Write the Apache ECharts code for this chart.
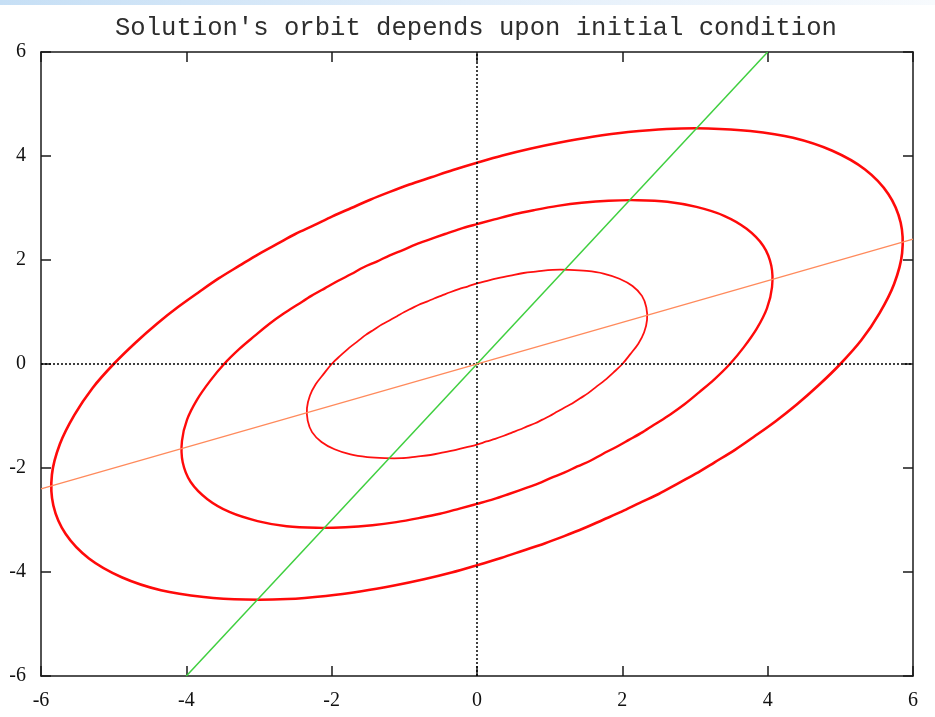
<!DOCTYPE html>
<html>
<head>
<meta charset="utf-8">
<title>Solution's orbit</title>
<script src="https://cdn.jsdelivr.net/npm/echarts@6/dist/echarts.min.js"></script>
<style>
  html, body { margin: 0; padding: 0; background: #ffffff; }
  #chart { width: 935px; height: 717px; }
</style>
</head>
<body>
<div id="chart"></div>
<script>
// Phase-plane picture of a linear system: three closed orbits (one per
// initial condition) plus the two principal directions through the origin.
const titleText = "Solution's orbit depends upon initial condition";
const axisTicks = [-6, -4, -2, 0, 2, 4, 6];

// Orbit traced from the largest initial condition
const outerOrbit = [
  [5.00, 0.00], [5.29, 0.46], [5.54, 0.98], [5.74, 1.54], [5.85, 2.13], [5.83, 2.72],
  [5.66, 3.27], [5.34, 3.74], [4.89, 4.10], [4.35, 4.35], [3.76, 4.48], [3.18, 4.53],
  [2.61, 4.52], [2.08, 4.46], [1.59, 4.37], [1.14, 4.26], [0.73, 4.14], [0.35, 4.01],
  [0.00, 3.87], [-0.33, 3.73], [-0.63, 3.59], [-0.93, 3.45], [-1.20, 3.31], [-1.47, 3.16],
  [-1.73, 3.00], [-1.99, 2.84], [-2.24, 2.67], [-2.50, 2.50], [-2.75, 2.31], [-3.01, 2.11],
  [-3.27, 1.89], [-3.55, 1.65], [-3.82, 1.39], [-4.11, 1.10], [-4.40, 0.78], [-4.70, 0.41],
  [-5.00, 0.00], [-5.29, -0.46], [-5.54, -0.98], [-5.74, -1.54], [-5.85, -2.13], [-5.83, -2.72],
  [-5.66, -3.27], [-5.34, -3.74], [-4.89, -4.10], [-4.35, -4.35], [-3.76, -4.48], [-3.18, -4.53],
  [-2.61, -4.52], [-2.08, -4.46], [-1.59, -4.37], [-1.14, -4.26], [-0.73, -4.14], [-0.35, -4.01],
  [0.00, -3.87], [0.33, -3.73], [0.63, -3.59], [0.93, -3.45], [1.20, -3.31], [1.47, -3.16],
  [1.73, -3.00], [1.99, -2.84], [2.24, -2.67], [2.50, -2.50], [2.75, -2.31], [3.01, -2.11],
  [3.27, -1.89], [3.55, -1.65], [3.82, -1.39], [4.11, -1.10], [4.40, -0.78], [4.70, -0.41]
];

// Orbit from the middle initial condition
const middleOrbit = [
  [3.48, 0.00], [3.67, 0.32], [3.85, 0.68], [3.99, 1.07], [4.06, 1.48], [4.05, 1.89],
  [3.94, 2.27], [3.71, 2.60], [3.40, 2.85], [3.02, 3.02], [2.62, 3.12], [2.21, 3.15],
  [1.81, 3.14], [1.44, 3.10], [1.11, 3.04], [0.79, 2.96], [0.51, 2.88], [0.24, 2.78],
  [0.00, 2.69], [-0.23, 2.60], [-0.44, 2.50], [-0.64, 2.40], [-0.84, 2.30], [-1.02, 2.19],
  [-1.20, 2.09], [-1.38, 1.97], [-1.56, 1.86], [-1.73, 1.73], [-1.91, 1.60], [-2.09, 1.46],
  [-2.28, 1.31], [-2.46, 1.15], [-2.66, 0.97], [-2.86, 0.77], [-3.06, 0.54], [-3.27, 0.29],
  [-3.48, 0.00], [-3.67, -0.32], [-3.85, -0.68], [-3.99, -1.07], [-4.06, -1.48], [-4.05, -1.89],
  [-3.94, -2.27], [-3.71, -2.60], [-3.40, -2.85], [-3.02, -3.02], [-2.62, -3.12], [-2.21, -3.15],
  [-1.81, -3.14], [-1.44, -3.10], [-1.11, -3.04], [-0.79, -2.96], [-0.51, -2.88], [-0.24, -2.78],
  [0.00, -2.69], [0.23, -2.60], [0.44, -2.50], [0.64, -2.40], [0.84, -2.30], [1.02, -2.19],
  [1.20, -2.09], [1.38, -1.97], [1.56, -1.86], [1.73, -1.73], [1.91, -1.60], [2.09, -1.46],
  [2.28, -1.31], [2.46, -1.15], [2.66, -0.97], [2.86, -0.77], [3.06, -0.54], [3.27, -0.29]
];

// Orbit from the smallest initial condition
const innerOrbit = [
  [2.00, 0.00], [2.11, 0.19], [2.22, 0.39], [2.30, 0.61], [2.34, 0.85], [2.33, 1.09],
  [2.27, 1.31], [2.14, 1.50], [1.96, 1.64], [1.74, 1.74], [1.51, 1.79], [1.27, 1.81],
  [1.04, 1.81], [0.83, 1.78], [0.64, 1.75], [0.46, 1.70], [0.29, 1.65], [0.14, 1.60],
  [0.00, 1.55], [-0.13, 1.49], [-0.25, 1.44], [-0.37, 1.38], [-0.48, 1.32], [-0.59, 1.26],
  [-0.69, 1.20], [-0.80, 1.14], [-0.90, 1.07], [-1.00, 1.00], [-1.10, 0.92], [-1.20, 0.84],
  [-1.31, 0.76], [-1.42, 0.66], [-1.53, 0.56], [-1.64, 0.44], [-1.76, 0.31], [-1.88, 0.16],
  [-2.00, 0.00], [-2.11, -0.19], [-2.22, -0.39], [-2.30, -0.61], [-2.34, -0.85], [-2.33, -1.09],
  [-2.27, -1.31], [-2.14, -1.50], [-1.96, -1.64], [-1.74, -1.74], [-1.51, -1.79], [-1.27, -1.81],
  [-1.04, -1.81], [-0.83, -1.78], [-0.64, -1.75], [-0.46, -1.70], [-0.29, -1.65], [-0.14, -1.60],
  [0.00, -1.55], [0.13, -1.49], [0.25, -1.44], [0.37, -1.38], [0.48, -1.32], [0.59, -1.26],
  [0.69, -1.20], [0.80, -1.14], [0.90, -1.07], [1.00, -1.00], [1.10, -0.92], [1.20, -0.84],
  [1.31, -0.76], [1.42, -0.66], [1.53, -0.56], [1.64, -0.44], [1.76, -0.31], [1.88, -0.16]
];

// Straight lines through the origin
const steepDirection = [[-4, -6], [4, 6]];
const shallowDirection = [[-6, -2.4], [6, 2.4]];

// Dotted zero axes
const xZeroLine = [[-6, 0], [6, 0]];
const yZeroLine = [[0, -6], [0, 6]];

const axisMin = axisTicks[0];
const axisMax = axisTicks[axisTicks.length - 1];
const axisStep = axisTicks[1] - axisTicks[0];

const frameColor = '#1a1a1a';
const labelFont = {
  fontFamily: '"Liberation Serif", "DejaVu Serif", serif',
  fontSize: 20,
  lineHeight: 20,
  color: '#111'
};

function makeAxis(position, showLabels, margin, padding) {
  return {
    type: 'value',
    position: position,
    min: axisMin,
    max: axisMax,
    interval: axisStep,
    axisLine: { show: true, onZero: false, lineStyle: { color: frameColor, width: 1.5 } },
    axisTick: { show: true, inside: true, length: 10, lineStyle: { color: frameColor, width: 1.5 } },
    axisLabel: Object.assign({ show: showLabels, margin: margin, padding: padding || 0 }, labelFont),
    splitLine: { show: false }
  };
}

function line(name, data, color, width, extra) {
  return Object.assign({
    name: name,
    type: 'line',
    data: data,
    xAxisIndex: 0,
    yAxisIndex: 0,
    showSymbol: false,
    symbol: 'none',
    silent: true,
    animation: false,
    lineStyle: { color: color, width: width }
  }, extra || {});
}

// A closed orbit: the sampled points are mapped through the axes and joined
// by a closed Catmull-Rom spline so the loop stays round between samples.
function orbit(name, data, color, width) {
  return {
    name: name,
    type: 'custom',
    coordinateSystem: 'cartesian2d',
    xAxisIndex: 0,
    yAxisIndex: 0,
    silent: true,
    animation: false,
    data: data,
    encode: { x: 0, y: 1 },
    renderItem: function (params, api) {
      if (params.dataIndex !== 0) return null;
      const p = data.map(function (d) { return api.coord(d); });
      const n = p.length;
      let path = 'M' + p[0][0] + ',' + p[0][1];
      for (let i = 0; i < n; i++) {
        const p0 = p[(i - 1 + n) % n], p1 = p[i], p2 = p[(i + 1) % n], p3 = p[(i + 2) % n];
        const c1x = p1[0] + (p2[0] - p0[0]) / 6, c1y = p1[1] + (p2[1] - p0[1]) / 6;
        const c2x = p2[0] - (p3[0] - p1[0]) / 6, c2y = p2[1] - (p3[1] - p1[1]) / 6;
        path += 'C' + c1x + ',' + c1y + ' ' + c2x + ',' + c2y + ' ' + p2[0] + ',' + p2[1];
      }
      path += 'Z';
      return {
        type: 'path',
        shape: { pathData: path },
        style: { fill: 'none', stroke: color, lineWidth: width, lineJoin: 'round' }
      };
    }
  };
}

const chart = echarts.init(document.getElementById('chart'), null, { renderer: 'canvas' });

chart.setOption({
  backgroundColor: '#ffffff',
  animation: false,
  title: {
    text: titleText,
    left: 110,
    top: 10,
    textStyle: {
      fontFamily: '"Liberation Mono", "DejaVu Sans Mono", monospace',
      fontSize: 25.6,
      fontWeight: 'normal',
      color: '#2e2e2e',
      lineHeight: 26
    }
  },
  graphic: [{
    type: 'rect',
    left: 0,
    top: 0,
    silent: true,
    shape: { width: 935, height: 5 },
    style: {
      fill: new echarts.graphic.LinearGradient(0, 0, 1, 0, [
        { offset: 0, color: '#c6dff5' },
        { offset: 0.5, color: '#e2eefa' },
        { offset: 1, color: '#f7fafd' }
      ])
    }
  }],
  grid: { left: 41, right: 22, top: 52, bottom: 41, containLabel: false },
  xAxis: [makeAxis('bottom', true, 15), makeAxis('top', false, 8)],
  yAxis: [makeAxis('left', true, 15, [3, 0, 0, 0]), makeAxis('right', false, 8)],
  series: [
    line('x = 0 axis', xZeroLine, '#000', 1.5, { lineStyle: { color: '#000', width: 1.5, type: [2, 2] } }),
    line('y = 0 axis', yZeroLine, '#000', 1.5, { lineStyle: { color: '#000', width: 1.5, type: [2, 2] } }),
    orbit('outer orbit', outerOrbit, '#ff0a0a', 2.6),
    orbit('middle orbit', middleOrbit, '#ff0a0a', 2.4),
    orbit('inner orbit', innerOrbit, '#ff1010', 1.8),
    line('steep direction', steepDirection, '#3fcf3f', 1.5),
    line('shallow direction', shallowDirection, '#ff8a5c', 1.3)
  ]
});
</script>
</body>
</html>
